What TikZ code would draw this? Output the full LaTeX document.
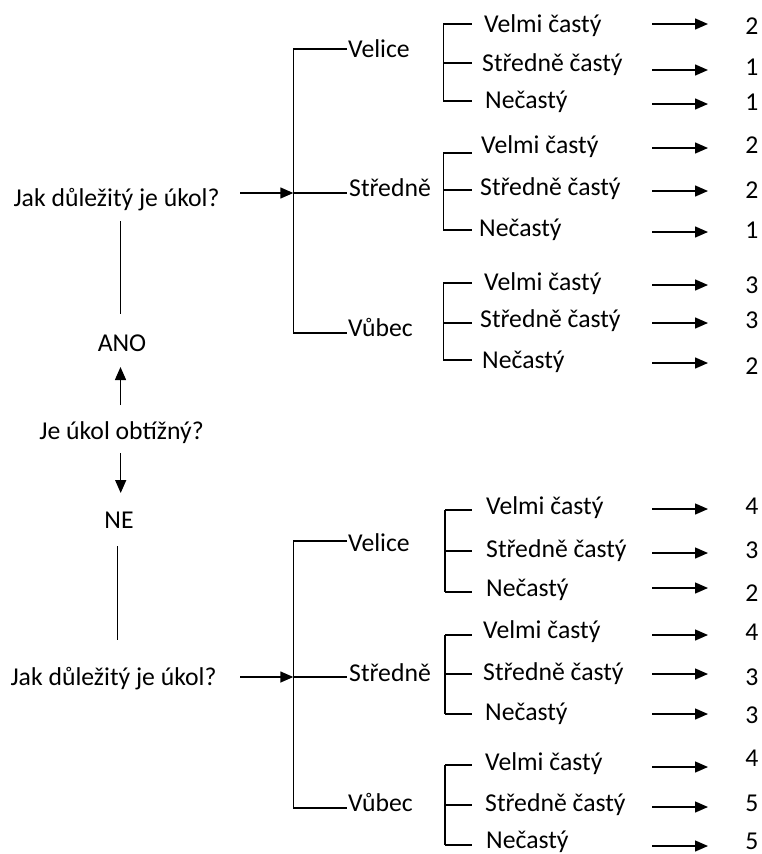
\documentclass[tikz,border=0pt]{standalone}
\usepackage{fontspec}
\setmainfont{Carlito}
\usetikzlibrary{arrows.meta}
\tikzset{
  ln/.style={line width=1.4pt, line join=miter},
  arr/.style={line width=1.4pt, -{Triangle[length=13pt,width=11pt]}},
  txt/.style={anchor=base west, inner sep=0pt, font=\fontsize{25.7}{30}\selectfont},
  ctr/.style={anchor=base, inner sep=0pt, font=\fontsize{25.7}{30}\selectfont},
}
% #1 name, #2 spine x, #3 line y, #4 text x, #5 text mid y, #6 text, #7 arrow y, #8 number, #9 number mid y
\newcommand\lf[9]{%
  \coordinate (#1s) at (#2,#3);
  \coordinate (#1e) at (472,#3);
  \draw[ln] (#1s) -- (#1e);
  \node[txt] (#1) at (#4-1,#5+8) {#6};
  \coordinate (#1a) at (652,#7);
  \coordinate (#1b) at (708,#7);
  \draw[arr] (#1a) -- (#1b);
  \node[ctr] (#1n) at (752,#9+8) {#8};
}
\begin{document}
\begin{tikzpicture}[x=1pt,y=-1pt]
\useasboundingbox (0,0) rectangle (762,854);
% ---------- left column ----------
\node[ctr] (q1) at (116.5,206) {Jak důležitý je úkol?};
\node[ctr] (ano) at (122,351) {ANO};
\node[ctr] (obt) at (121.5,439) {Je úkol obtížný?};
\node[ctr] (ne) at (119,528) {NE};
\node[ctr] (q2) at (113.5,685) {Jak důležitý je úkol?};
\coordinate (l1t) at (120.7,221); \coordinate (l1b) at (120.7,314);
\draw[ln] (l1t) -- (l1b);
\coordinate (u1) at (120.5,405); \coordinate (u2) at (120.5,367);
\draw[arr] (u1) -- (u2);
\coordinate (d1) at (120.7,453); \coordinate (d2) at (120.7,493);
\draw[arr] (d1) -- (d2);
\coordinate (l2t) at (117.3,546); \coordinate (l2b) at (117.3,640);
\draw[ln] (l2t) -- (l2b);
% ---------- top big bracket ----------
\coordinate (a1) at (240,193);
\coordinate (B1t) at (293.3,49); \coordinate (B1m) at (293.3,193); \coordinate (B1b) at (293.3,333);
\draw[arr] (a1) -- (B1m);
\node[txt] (vel1) at (348,57) {Velice};
\node[txt] (str1) at (349,196) {Středně};
\node[txt] (vub1) at (348,336) {Vůbec};
\coordinate (B1te) at (347,49); \coordinate (B1me) at (347,193); \coordinate (B1be) at (347,333);
\draw[ln] (B1te) -- (B1t) -- (B1b) -- (B1be);
\draw[ln] (B1m) -- (B1me);
% ---------- bottom big bracket ----------
\coordinate (a2) at (240,677);
\coordinate (B2t) at (293.3,541); \coordinate (B2m) at (293.3,677); \coordinate (B2b) at (293.3,808);
\draw[arr] (a2) -- (B2m);
\node[txt] (vel2) at (348,551) {Velice};
\node[txt] (str2) at (349,681) {Středně};
\node[txt] (vub2) at (348,811) {Vůbec};
\coordinate (B2te) at (347,541); \coordinate (B2me) at (347,677); \coordinate (B2be) at (347,808);
\draw[ln] (B2te) -- (B2t) -- (B2b) -- (B2be);
\draw[ln] (B2m) -- (B2me);
% ---------- top leaves ----------
\lf{TA1}{443.3}{24}{485}{24}{Velmi častý}{24}{2}{26}
\lf{TA2}{443.3}{63}{483}{63}{Středně častý}{70}{1}{67}
\lf{TA3}{443.3}{101}{486}{100}{Nečastý}{104}{1}{102}
\draw[ln] (TA1s) -- (TA3s);
\lf{TB1}{443.3}{153}{482}{145}{Velmi častý}{148}{2}{145}
\lf{TB2}{443.3}{190}{481}{187}{Středně častý}{191}{2}{190}
\lf{TB3}{443.3}{230}{480}{228}{Nečastý}{232}{1}{230}
\draw[ln] (TB1s) -- (TB3s);
\lf{TC1}{443.3}{283}{485}{282}{Velmi častý}{285}{3}{285}
\lf{TC2}{443.3}{323}{481}{319}{Středně častý}{323}{3}{320}
\lf{TC3}{443.3}{360}{483}{360}{Nečastý}{363}{2}{366}
\draw[ln] (TC1s) -- (TC3s);
% ---------- bottom leaves ----------
\lf{BA1}{445}{510}{487}{506}{Velmi častý}{509}{4}{506}
\lf{BA2}{445}{551}{487}{549}{Středně častý}{553}{3}{550}
\lf{BA3}{445}{592}{487}{588}{Nečastý}{588}{2}{593}
\draw[ln] (BA1s) -- (BA3s);
\lf{BB1}{445}{635}{484}{630}{Velmi častý}{635}{4}{632}
\lf{BB2}{445}{674}{484}{672}{Středně častý}{674}{3}{677}
\lf{BB3}{445}{714}{486}{712}{Nečastý}{714}{3}{715}
\draw[ln] (BB1s) -- (BB3s);
\lf{BC1}{445}{765}{486}{762}{Velmi častý}{767}{4}{758}
\lf{BC2}{445}{805}{486}{803}{Středně častý}{807}{5}{803}
\lf{BC3}{445}{845}{487}{840}{Nečastý}{846}{5}{841}
\draw[ln] (BC1s) -- (BC3s);
\end{tikzpicture}
\end{document}
